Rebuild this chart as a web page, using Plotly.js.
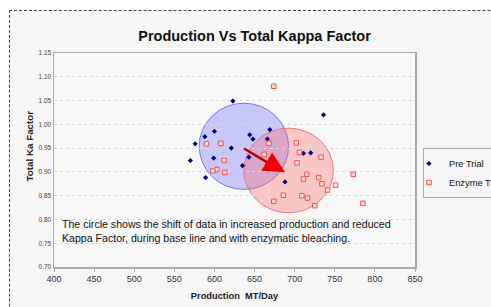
<!DOCTYPE html>
<html><head><meta charset="utf-8">
<script src="https://cdn.plot.ly/plotly-3.0.1.min.js"></script>
<style>
html,body{margin:0;padding:0;background:#fff;width:491px;height:307px;overflow:hidden;}
#frame{position:absolute;left:9px;top:10px;width:600px;height:400px;border-left:1px dashed #444;border-top:1px dashed #444;background:#f6f6f6;}
#chart{position:absolute;left:0;top:0;width:600px;height:307px;}
</style></head>
<body>
<div id="frame"></div>
<div id="chart"></div>
<script>
const preX = [623, 736, 669, 600, 588, 644, 648, 666, 576, 621, 643, 599, 570, 635, 589, 711, 720, 688];
const preY = [1.049, 1.020, 0.989, 0.985, 0.974, 0.978, 0.969, 0.969, 0.959, 0.950, 0.931, 0.929, 0.924, 0.913, 0.888, 0.939, 0.940, 0.879];
const enzX = [674, 590, 608, 668, 702, 706, 662, 733, 612, 703, 603, 598, 613, 715, 711, 730, 734, 751, 741, 773, 686, 709, 716, 674, 725, 785];
const enzY = [1.080, 0.959, 0.960, 0.960, 0.961, 0.941, 0.937, 0.931, 0.924, 0.919, 0.905, 0.902, 0.899, 0.895, 0.885, 0.888, 0.875, 0.872, 0.862, 0.895, 0.851, 0.850, 0.845, 0.838, 0.829, 0.834];
const xTicks = [400, 450, 500, 550, 600, 650, 700, 750, 800, 850];
const yTicks = [0.70, 0.75, 0.80, 0.85, 0.90, 0.95, 1.00, 1.05, 1.10, 1.15];

const traces = [
  {x: preX, y: preY, type: 'scatter', mode: 'markers', name: 'Pre Trial',
   marker: {symbol: 'diamond', size: 4, color: '#000080'}},
  {x: enzX, y: enzY, type: 'scatter', mode: 'markers', name: 'Enzyme Trial',
   marker: {symbol: 'square', size: 4.5, color: 'rgba(255,215,215,0.9)', line: {color: '#ee5555', width: 1}}}
];

const layout = {
  width: 600, height: 307,
  margin: {l: 54, r: 185, t: 53, b: 40},
  paper_bgcolor: 'rgba(0,0,0,0)',
  plot_bgcolor: '#f7f7f7',
  showlegend: true,
  font: {family: 'Liberation Sans, Arial, sans-serif', color: '#000'},
  title: {text: '<b>Production Vs Total Kappa Factor</b>', font: {size: 14.5, color: '#111'}, x: 254.5 / 600, xanchor: 'center', y: 1 - 36 / 307, yanchor: 'middle'},
  xaxis: {range: [400, 850], tickvals: xTicks, ticktext: xTicks.map(String), showgrid: false, zeroline: false,
    showline: true, linecolor: '#aaa', linewidth: 1.5, mirror: true, ticks: 'outside', ticklen: 3, tickcolor: '#aaa',
    tickfont: {size: 9, color: '#333'},
    title: {text: '<b>Production  MT/Day</b>', font: {size: 9.3, color: '#222'}, standoff: 9}},
  yaxis: {range: [0.70, 1.15], tickvals: yTicks, ticktext: yTicks.map(v => v.toFixed(2)), showgrid: true, gridcolor: '#d8d8d8', griddash: 'dot', zeroline: false,
    showline: true, linecolor: '#aaa', linewidth: 1.5, mirror: true, ticks: '',
    tickfont: {size: 6.5, color: '#444'}},
  legend: {x: (423 - 54) / 361, y: 0.556, xanchor: 'left', yanchor: 'top', bgcolor: 'rgba(0,0,0,0)', bordercolor: '#aaa', borderwidth: 1,
    font: {size: 9.3, color: '#111'}, indentation: -15, tracegroupgap: 0},
  shapes: [
    {type: 'circle', xref: 'x', yref: 'y', x0: 581, x1: 692.4, y0: 0.863, y1: 1.0445,
     fillcolor: 'rgba(110,110,255,0.35)', line: {color: 'rgba(100,100,235,0.85)', width: 1}, layer: 'below'},
    {type: 'circle', xref: 'x', yref: 'y', x0: 636.7, x1: 748.2, y0: 0.814, y1: 0.992,
     fillcolor: 'rgba(255,110,110,0.35)', line: {color: 'rgba(235,100,100,0.85)', width: 1}, layer: 'below'}
  ],
  annotations: [
    {x: 683, y: 0.903, ax: 635, ay: 0.951, xref: 'x', yref: 'y', axref: 'x', ayref: 'y', text: '', showarrow: true,
     arrowhead: 0, arrowwidth: 2.5, arrowcolor: '#b80000'},
    {x: 688, y: 0.899, ax: 674, ay: 0.913, xref: 'x', yref: 'y', axref: 'x', ayref: 'y', text: '', showarrow: true,
     arrowhead: 2, arrowsize: 1.7, arrowwidth: 2.5, arrowcolor: '#ee0000'},
    {x: 0.0155, y: 0.236, xref: 'paper', yref: 'paper', xanchor: 'left', yanchor: 'top', align: 'left', showarrow: false,
     text: 'The circle shows the shift of data in increased production and reduced<br>Kappa Factor, during base line and with enzymatic bleaching.',
     font: {size: 10.6, color: '#111'}},
    {x: -25.5 / 361, y: (267 - 146) / 214, xref: 'paper', yref: 'paper', xanchor: 'center', yanchor: 'middle', textangle: -90, showarrow: false,
     text: '<b>Total Ka Factor</b>', font: {size: 9.8, color: '#222'}}
  ]
};
Plotly.newPlot('chart', traces, layout, {displayModeBar: false, staticPlot: true});
</script>
</body></html>
